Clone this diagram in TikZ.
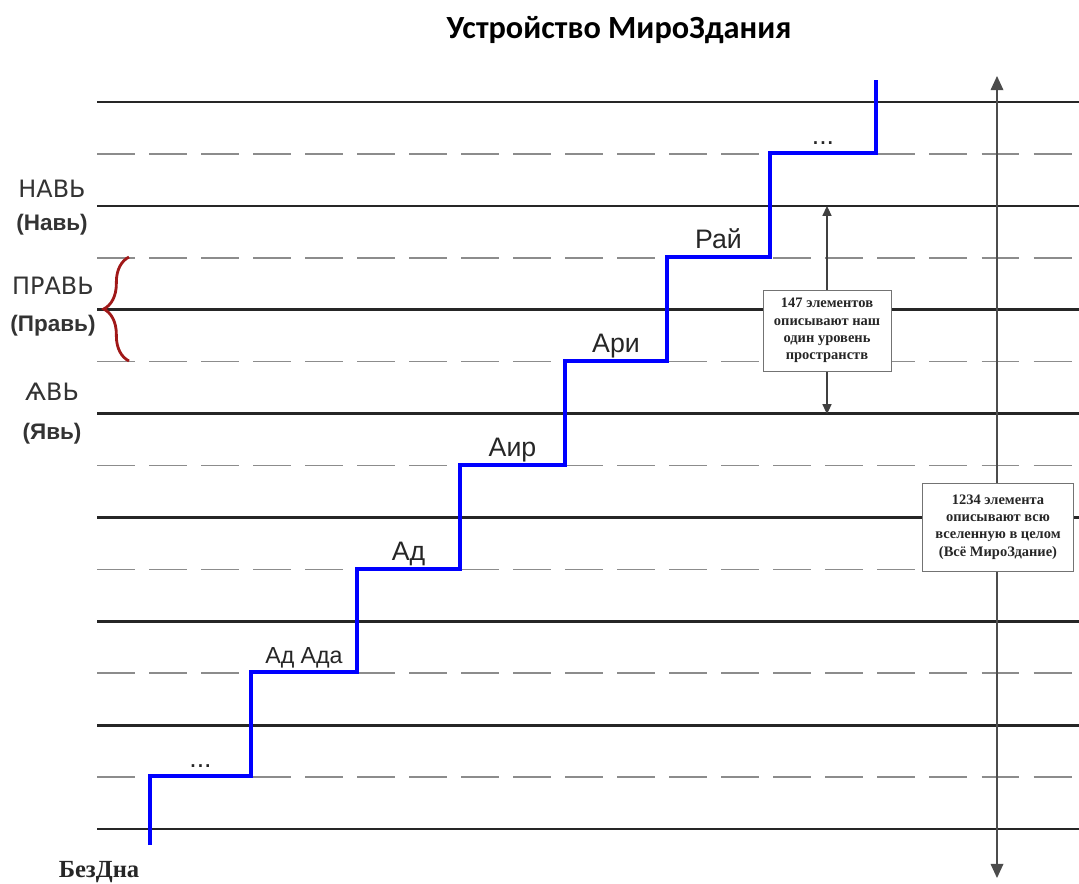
\documentclass[tikz,border=0pt]{standalone}
\usepackage{fontspec}
\setmainfont{Liberation Serif}
\setsansfont{Liberation Sans}
\newfontfamily\titlefont{Carlito}
\newfontfamily\oldfont{DejaVu Sans}
\usetikzlibrary{positioning, arrows.meta, decorations.pathreplacing}
\definecolor{bracered}{RGB}{160,24,24}

\begin{document}
\begin{tikzpicture}[x=0.025cm, y=-0.025cm,
        level/.style={line width=1.9pt, black!85},
        halflevel/.style={line width=1.1pt, black!45, dash pattern=on 27pt off 10pt},
        stair/.style={line width=2.6pt, blue},
        steplabel/.style={font=\sffamily\fontsize{19}{22}\selectfont, above, pos=.75,
            inner sep=2pt, text height=0.75em, text depth=0.25em, text=black!85},
        world/.style={font=\oldfont\fontsize{17}{19}\selectfont, text=black!80},
        worldname/.style={font=\sffamily\bfseries\fontsize{16}{18}\selectfont, text=black!80, inner sep=1pt},
        infobox/.style={draw=black!55, fill=white, align=center, text=black!85,
            font=\bfseries\fontsize{10.3}{12.4}\selectfont},
        span/.style={{Triangle[width=9pt,length=10pt]}-{Triangle[width=9pt,length=10pt]},
            line width=0.9pt, black!70},
        shortspan/.style={{Triangle[width=6.5pt,length=7pt]}-{Triangle[width=6.5pt,length=7pt]},
            line width=0.8pt, black!75}]

    \useasboundingbox (0,0) rectangle (1079,883);

    \node[font=\titlefont\bfseries\fontsize{23}{27}\selectfont] (title) at (619,30) {Устройство МироЗдания};

    % levels of the world
    \foreach \i in {0,...,7}
        \draw[level] (97,{102+103.86*\i}) -- (1079,{102+103.86*\i});
    \foreach \i in {0,...,6}
        \draw[halflevel] (97,{153.9+103.86*\i}) -- (1079,{153.9+103.86*\i});

    % the staircase
    \draw[stair] (150,845)
        |- node[steplabel] (s0) {...}     (251,776)
        |- node[steplabel, font=\sffamily\fontsize{16.5}{19}\selectfont] (s1) {Ад Ада} (357,672)
        |- node[steplabel] (s2) {Ад}      (460,569)
        |- node[steplabel] (s3) {Аир}     (565,465)
        |- node[steplabel] (s4) {Ари}     (667,361)
        |- node[steplabel] (s5) {Рай}     (770,257)
        |- node[steplabel] (s6) {...}     (876,153)
        -- (876,80);

    \node[world]                         (nav)      at (52,189) {НАВЬ};
    \node[worldname, below=7pt of nav]   (navname)              {(Навь)};
    \node[world]                         (prav)     at (53,286) {ПРАВЬ};
    \node[worldname, below=10pt of prav] (pravname)             {(Правь)};
    \node[world]                         (yav)      at (52,392) {ѦВЬ};
    \node[worldname, below=11pt of yav]  (yavname)              {(Явь)};

    \coordinate (pravtop) at (129,257);
    \coordinate (pravbot) at (129,361);
    \draw[bracered, line width=2pt, decorate, decoration={brace, amplitude=18pt}] (pravbot) -- (pravtop);

    % spans behind the boxes
    \coordinate (onetop) at (827,206);
    \coordinate (onebot) at (827,414);
    \coordinate (alltop) at (997,76);
    \coordinate (allbot) at (997,878);
    \draw[shortspan] (onebot) -- (onetop);
    \draw[span] (allbot) -- (alltop);

    \node[infobox, minimum width=3.2cm, minimum height=2.02cm] (one) at (827,330.5)
        {147 элементов\\описывают наш\\один уровень\\пространств};
    \node[infobox, minimum width=3.78cm, minimum height=2.2cm] (all) at (998,527)
        {1234 элемента\\описывают всю\\вселенную в целом\\(Всё МироЗдание)};

    \node[font=\bfseries\fontsize{17.5}{20}\selectfont, text=black!85] (bezdna) at (99,872) {БезДна};

\end{tikzpicture}
\end{document}
